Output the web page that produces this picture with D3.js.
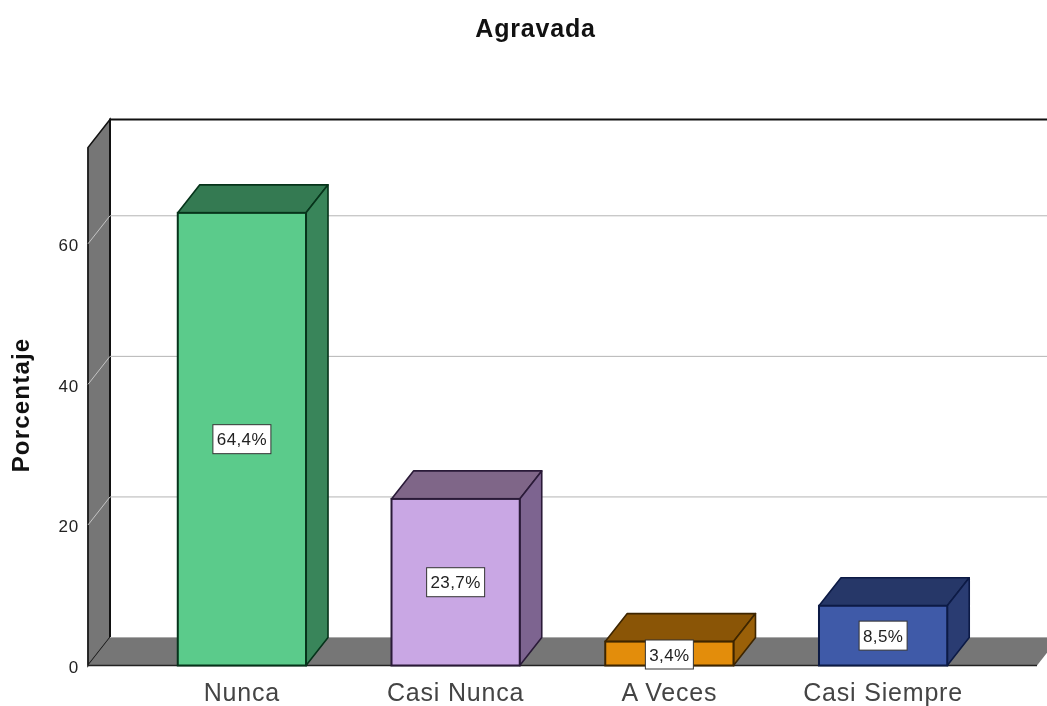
<!DOCTYPE html>
<html><head><meta charset="utf-8">
<script src="https://cdnjs.cloudflare.com/ajax/libs/d3/7.8.5/d3.min.js"></script>
<style>html,body{margin:0;padding:0;background:#fff}svg{display:block;filter:blur(0.35px)}text{font-family:"Liberation Sans",Arial,sans-serif}</style>
</head><body><svg id="c" width="1047" height="706"></svg>
<script>
const categories = ["Nunca","Casi Nunca","A Veces","Casi Siempre"];
const values = [64.4,23.7,3.4,8.5];
const valueLabels = ["64,4%","23,7%","3,4%","8,5%"];
const frontColors = ["#5bcb8b","#c9a7e4","#e38d0b","#3f5aa8"];
const topColors = ["#347a52","#7f6688","#8a5506","#263768"];
const sideColors = ["#39855a","#7d6490","#9a6008","#2a3c72"];
const edgeColors = ["#06331a","#2a1a38","#3d2500","#0c1a45"];
const yTicks = [0,20,40,60];
const yMax = 73.7;
const dx = 22, dy = 28;

const svg = d3.select("#c");
const x = d3.scaleBand().domain(categories).range([88,1037]).paddingInner(0.4).paddingOuter(0.42);
const y = d3.scaleLinear().domain([0,yMax]).range([665.5,147.5]);
const poly = pts => pts.map(p=>p.join(",")).join(" ");

// back wall
svg.append("polyline").attr("points",poly([[110,y(0)-dy],[110,y(yMax)-dy],[1047,y(yMax)-dy]]))
  .attr("fill","none").attr("stroke","#111").attr("stroke-width",2);
// left wall
svg.append("polygon").attr("points",poly([[88,y(0)],[88,y(yMax)],[110,y(yMax)-dy],[110,y(0)-dy]]))
  .attr("fill","#767676").attr("stroke","#111").attr("stroke-width",1.5);
// floor
svg.append("polygon").attr("points",poly([[88,y(0)],[110,y(0)-dy],[1059,y(0)-dy],[1037,y(0)]]))
  .attr("fill","#767676");
svg.append("line").attr("x1",88).attr("x2",1037).attr("y1",y(0)).attr("y2",y(0)).attr("stroke","#222").attr("stroke-width",1.5);
svg.append("line").attr("x1",110).attr("x2",110).attr("y1",y(yMax)-dy).attr("y2",y(0)-dy).attr("stroke","#111").attr("stroke-width",2);
svg.append("line").attr("x1",88).attr("x2",88).attr("y1",y(yMax)).attr("y2",y(0)).attr("stroke","#222").attr("stroke-width",1.5);
svg.append("line").attr("x1",110).attr("x2",1059).attr("y1",y(0)-dy).attr("y2",y(0)-dy).attr("stroke","#aaa").attr("stroke-width",1);

// gridlines
const gridTicks = yTicks.filter(d=>d>0);
svg.selectAll(".grid").data(gridTicks).join("line").attr("class","grid")
  .attr("x1",110).attr("x2",1047).attr("y1",d=>y(d)-dy).attr("y2",d=>y(d)-dy)
  .attr("stroke","#b4b4b4").attr("stroke-width",1);
svg.selectAll(".gridw").data(gridTicks).join("line").attr("class","gridw")
  .attr("x1",88).attr("x2",110).attr("y1",d=>y(d)).attr("y2",d=>y(d)-dy)
  .attr("stroke","#c4c4c4").attr("stroke-width",1);

// bars
const bars = svg.selectAll(".bar").data(categories).join("g").attr("class","bar");
bars.each(function(c,i){
  const g=d3.select(this), l=x(c), r=l+x.bandwidth(), t=y(values[i]), b=y(0);
  g.append("polygon").attr("points",poly([[l,t],[l+dx,t-dy],[r+dx,t-dy],[r,t]]))
    .attr("fill",topColors[i]).attr("stroke",edgeColors[i]).attr("stroke-width",1.6).attr("stroke-linejoin","round");
  g.append("polygon").attr("points",poly([[r,t],[r+dx,t-dy],[r+dx,b-dy],[r,b]]))
    .attr("fill",sideColors[i]).attr("stroke",edgeColors[i]).attr("stroke-width",1.6).attr("stroke-linejoin","round");
  g.append("rect").attr("x",l).attr("y",t).attr("width",x.bandwidth()).attr("height",b-t)
    .attr("fill",frontColors[i]).attr("stroke",edgeColors[i]).attr("stroke-width",2);
});
// value labels
const lh = 29, lw = {"64,4%":58,"23,7%":58,"3,4%":48,"8,5%":48};
bars.each(function(c,i){
  const g=d3.select(this), cx=x(c)+x.bandwidth()/2, cy=i===2?y(0)-11:(y(values[i])+y(0))/2;
  const w=lw[valueLabels[i]];
  g.append("rect").attr("x",cx-w/2).attr("y",cy-lh/2).attr("width",w).attr("height",lh)
    .attr("fill","#fff").attr("stroke","#333").attr("stroke-width",1);
  g.append("text").attr("x",cx).attr("y",cy+6).attr("text-anchor","middle").attr("font-size",17).attr("letter-spacing",0.4).attr("fill","#222").text(valueLabels[i]);
});

// axes text
svg.selectAll(".yl").data(yTicks).join("text").attr("class","yl")
  .attr("x",79).attr("y",d=>y(d)+7.5).attr("text-anchor","end").attr("font-size",17).attr("letter-spacing",0.8).attr("fill","#222").text(d=>d);
svg.selectAll(".xl").data(categories).join("text").attr("class","xl")
  .attr("x",c=>x(c)+x.bandwidth()/2).attr("y",701).attr("text-anchor","middle").attr("font-size",25).attr("letter-spacing",0.8).attr("fill","#444").text(c=>c);
svg.append("text").attr("x",535.5).attr("y",37).attr("text-anchor","middle").attr("font-size",25).attr("letter-spacing",0.8).attr("font-weight","bold").attr("fill","#111").text("Agravada");
svg.append("text").attr("transform","translate(29,405) rotate(-90)").attr("text-anchor","middle").attr("font-size",24).attr("letter-spacing",1.2).attr("font-weight","bold").attr("fill","#111").text("Porcentaje");
</script></body></html>
